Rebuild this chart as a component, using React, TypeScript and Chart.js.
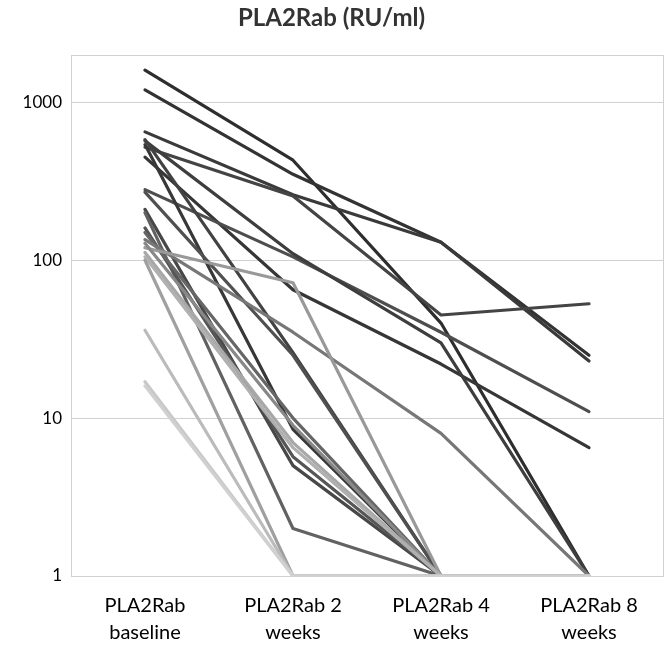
import React, { useEffect, useRef } from "react";
import { Chart, registerables } from "chart.js";

Chart.register(...registerables);

const categories: string[][] = [
  ["PLA2Rab", "baseline"],
  ["PLA2Rab 2", "weeks"],
  ["PLA2Rab 4", "weeks"],
  ["PLA2Rab 8", "weeks"],
];
const yTicks = [1, 10, 100, 1000];

// series drawn dark first, light last
const s01 = [1600, 430, 40, 1];
const s02 = [1200, 350, 130, 25];
const s03 = [650, 260, 130, 23];
const s04 = [520, 255, 45, 53];
const s05 = [450, 65, 22, 6.5];
const s06 = [280, 105, 35, 11];
const s07 = [570, 110, 30, 1];
const s08 = [540, 8.5, 1, 1];
const s09 = [580, 26, 1, 1];
const s10 = [270, 25, 1, 1];
const s11 = [210, 5, 1, 1];
const s12 = [200, 2, 1, 1];
const s13 = [160, 5.7, 1, 1];
const s14 = [150, 10, 1, 1];
const s15 = [135, 35, 8, 1];
const s16 = [120, 72, 1, 1];
const s17 = [128, 9, 1, 1];
const s18 = [112, 7, 1, 1];
const s19 = [105, 6.5, 1, 1];
const s20 = [100, 1, 1, 1];
const s21 = [36, 1, 1, 1];
const s22 = [17, 1, 1, 1];
const s23 = [16, 1, 1, 1];

const seriesList = [s01, s02, s03, s04, s05, s06, s07, s08, s09, s10, s11, s12, s13, s14, s15, s16, s17, s18, s19, s20, s21, s22, s23];
const seriesColors = [
  "#2e2e2e", "#333333", "#3a3a3a", "#444444", "#363636", "#4e4e4e", "#3e3e3e", "#383838",
  "#424242", "#505050", "#484848", "#626262", "#565656", "#666666", "#777777", "#999999",
  "#888888", "#a8a8a8", "#b0b0b0", "#a0a0a0", "#bbbbbb", "#c8c8c8", "#d0d0d0",
];

const FONT = "Lato";

const frame = {
  id: "frame",
  beforeDatasetsDraw(chart: any) {
    const { ctx, chartArea: a } = chart;
    ctx.save();
    ctx.strokeStyle = "#d0d0d0";
    ctx.lineWidth = 1;
    ctx.strokeRect(Math.round(a.left) + 0.5, Math.round(a.top) + 0.5, Math.round(a.right - a.left), Math.round(a.bottom - a.top));
    ctx.restore();
  },
};

export default function App() {
  const ref = useRef<HTMLCanvasElement>(null);
  useEffect(() => {
    const n = seriesList.length;
    const datasets = seriesList.map((s, i) => ({
      label: "S" + (i + 1),
      data: s,
      borderColor: seriesColors[i],
      backgroundColor: seriesColors[i],
      borderWidth: 3.2,
      pointRadius: 0,
      tension: 0,
      borderCapStyle: "round" as const,
      borderJoinStyle: "round" as const,
      order: n - i,
    }));
    const chart = new Chart(ref.current!, {
      type: "line",
      data: { labels: categories, datasets },
      plugins: [frame],
      options: {
        animation: false,
        responsive: false,
        layout: { padding: { left: 0, right: 1, top: 0, bottom: 0 } },
        plugins: {
          legend: { display: false },
          tooltip: { enabled: false },
          title: {
            display: true,
            text: "PLA2Rab (RU/ml)",
            color: "#333333",
            font: { family: FONT, size: 24, weight: "bold" },
            padding: { top: 4, bottom: 22 },
          },
        },
        scales: {
          x: {
            type: "category",
            offset: true,
            grid: { display: false, drawTicks: false },
            border: { display: false },
            ticks: {
              color: "#000000",
              font: { family: FONT, size: 20, lineHeight: 1.35 },
              padding: 16,
              maxRotation: 0,
              autoSkip: false,
            },
            afterFit: (scale: any) => {
              scale.height = 69;
            },
          },
          y: {
            type: "logarithmic",
            min: 1,
            max: 2000,
            grid: { color: "#d0d0d0", lineWidth: 1, drawTicks: false },
            border: { display: false },
            ticks: {
              color: "#000000",
              font: { family: FONT, size: 17 },
              padding: 9,
              callback: (v: any) => String(v),
            },
            afterBuildTicks: (scale: any) => {
              scale.ticks = yTicks.map((v) => ({ value: v }));
            },
            afterFit: (scale: any) => {
              scale.width = 71;
            },
          },
        },
      },
    });
    return () => chart.destroy();
  }, []);
  return (
    <div style={{ position: "absolute", left: 0, top: 0, width: 664, height: 645, background: "#fff" }}>
      <canvas ref={ref} width={664} height={645} style={{ display: "block" }} />
    </div>
  );
}
